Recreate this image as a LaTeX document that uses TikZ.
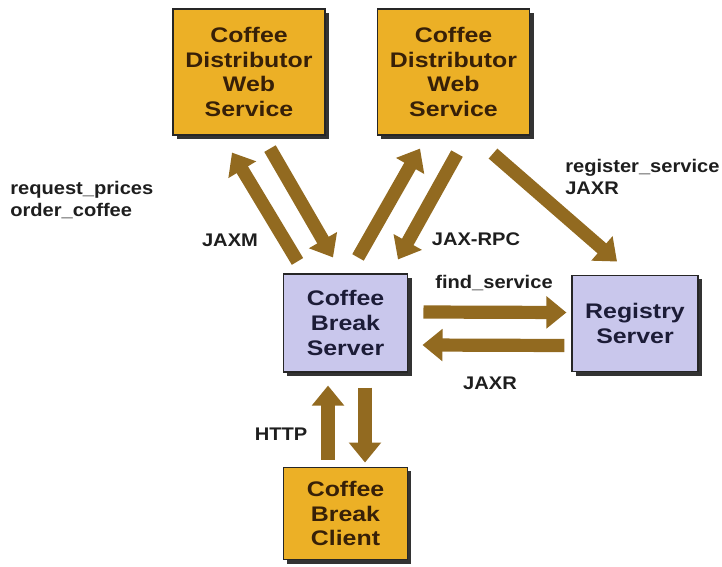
\documentclass[tikz,border=0pt]{standalone}
\usepackage{fontspec}
\setmainfont{Liberation Sans}[FakeStretch=1.18]
\newfontfamily\lblfont{Liberation Sans}[FakeStretch=1.1]
\usepackage{tikz}
\usetikzlibrary{arrows.meta,calc,shadows}
\definecolor{svcc}{RGB}{236,176,38}
\definecolor{srvc}{RGB}{201,199,236}
\definecolor{flowc}{RGB}{146,106,32}
\definecolor{inkc}{RGB}{30,30,30}
\definecolor{svcink}{RGB}{55,32,8}
\definecolor{srvink}{RGB}{28,28,55}

\begin{document}
\begin{tikzpicture}[x=0.025cm, y=-0.025cm,
  svcbox/.style={draw=black!85, line width=0.8pt, fill=svcc, text=svcink,
    align=center, inner sep=0pt, font=\fontsize{15}{17.7}\selectfont\bfseries,
    drop shadow={shadow xshift=0.09cm, shadow yshift=-0.09cm, fill=black!80, opacity=1}},
  srvbox/.style={svcbox, fill=srvc, text=srvink},
  flow/.style={-{Triangle[length=0.5cm, width=0.78cm]}, flowc, line width=0.33cm},
  lbl/.style={inkc, font=\lblfont\fontsize{13}{15}\selectfont\bfseries, align=left, inner sep=0pt}]
  \useasboundingbox (0,0) rectangle (722,566);

  % services on top, server in the middle, client below
  \node[svcbox, minimum width=3.8cm, minimum height=3.15cm] (dist1) at (249,72)
    {Coffee\\Distributor\\Web\\Service};
  \node[svcbox, minimum width=3.82cm, minimum height=3.15cm] (dist2) at (453.5,72)
    {Coffee\\Distributor\\Web\\Service};
  \node[srvbox, minimum width=3.12cm, minimum height=2.45cm] (srv) at (345.5,323)
    {Coffee\\Break\\Server};
  \node[srvbox, minimum width=3.15cm, minimum height=2.42cm] (reg) at (635,323.5)
    {Registry\\Server};
  \node[svcbox, minimum width=3.08cm, minimum height=2.32cm] (cli) at (345.5,513.5)
    {Coffee\\Break\\Client};

  % message arrows
  \draw[flow] ($(srv.north)+(-48,-12)$) -- ($(dist1.south)+(-17,17)$);
  \draw[flow] ($(dist1.south)+(21,13)$) -- ($(srv.north)+(-12.5,-16)$);
  \draw[flow] ($(srv.north)+(12.5,-16)$) -- ($(dist2.south)+(-33.5,13)$);
  \draw[flow] ($(dist2.south)+(3.5,18)$) -- ($(srv.north)+(52.5,-14)$);
  \draw[flow] ($(dist2.south)+(39.5,18)$) -- ($(reg.north)+(-18,-13)$);
  \draw[flow] ($(srv.east)+(15,-11)$) -- ($(reg.west)+(-5,-11)$);
  \draw[flow] ($(reg.west)+(-7,22)$) -- ($(srv.east)+(14,22)$);
  \draw[flow] ($(cli.north)+(-17.5,-7)$) -- ($(srv.south)+(-17.5,13)$);
  \draw[flow] ($(srv.south)+(19.5,15)$) -- ($(cli.north)+(19.5,-4)$);

  % labels
  \node[lbl, anchor=west] (lreq) at (10,200) {request\_prices\\order\_coffee};
  \node[lbl] (ljaxm) at (230,240) {JAXM};
  \node[lbl] (lrpc) at (476,239) {JAX-RPC};
  \node[lbl, anchor=west] (lreg) at (565,177) {register\_service\\JAXR};
  \node[lbl] (lfind) at (494,283) {find\_service};
  \node[lbl] (ljaxr) at (490,383) {JAXR};
  \node[lbl] (lhttp) at (281,434) {HTTP};
\end{tikzpicture}
\end{document}
